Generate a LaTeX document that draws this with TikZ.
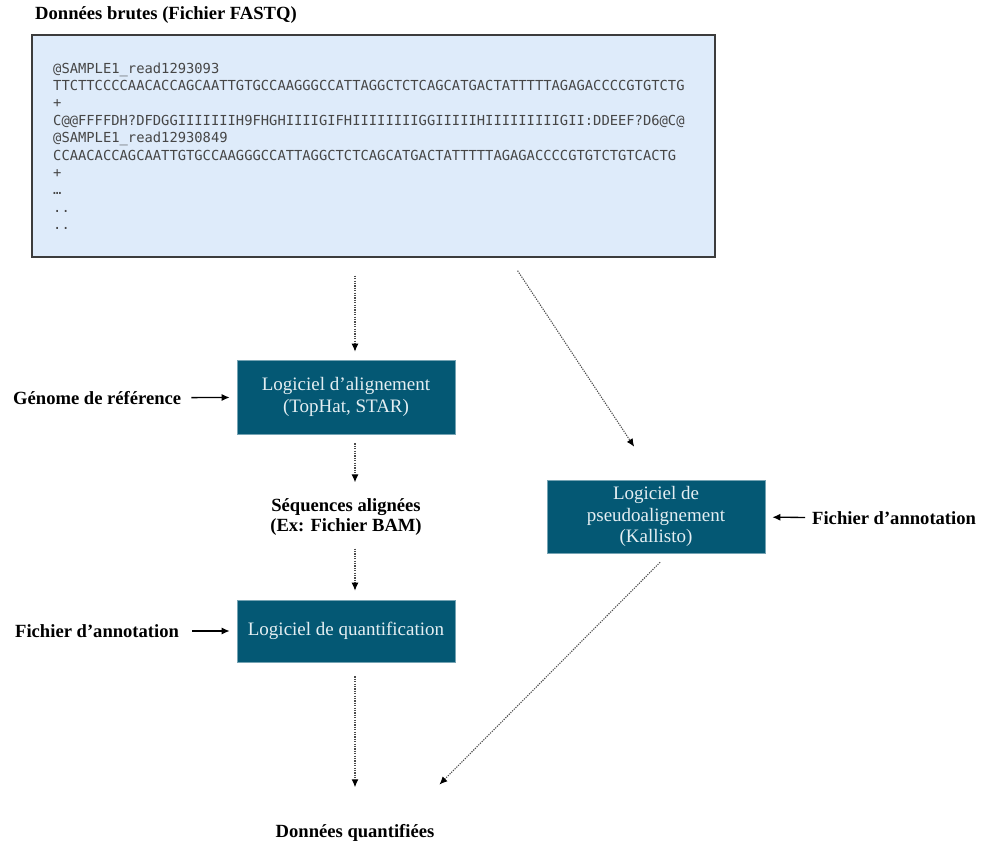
\documentclass[tikz,border=0pt]{standalone}
\usepackage{fontspec}
\setmainfont{Liberation Serif}
\setmonofont{DejaVu Sans Mono}
\usetikzlibrary{arrows.meta}
\definecolor{toolblue}{RGB}{4,88,116}
\definecolor{tooltext}{RGB}{228,238,242}
\definecolor{rawfill}{RGB}{222,235,250}
\definecolor{rawline}{RGB}{60,60,60}
\definecolor{readtext}{RGB}{70,70,70}

\begin{document}
\begin{tikzpicture}
        [x=1pt, y=-1pt,
        tool/.style={rectangle, fill=toolblue, draw=toolblue!55!white, line width=0.6pt,
           text=tooltext, minimum width=218pt, align=center,
           font=\fontsize{19}{21.5}\selectfont},
        txt/.style={inner sep=0pt, align=center, font=\fontsize{18.6}{20}\selectfont\bfseries},
        dotarr/.style={-{Latex[length=8pt,width=7pt,black]}, dash pattern=on 1.2pt off 1.2pt,
           line width=1.1pt, draw=black!70},
        arr/.style={-{Latex[length=8pt,width=7pt]}, line width=1.3pt}]
        \useasboundingbox (0,0) rectangle (982,845);
        % raw reads
        \node (title) at (35,15) [txt, anchor=west] {Données brutes (Fichier FASTQ)};
        \node (fastq) at (373.5,146) [rectangle, fill=rawfill, draw=rawline, line width=1.4pt,
           minimum width=683pt, minimum height=222pt] {};
        \node (reads) at (53,62.5) [anchor=north west, inner sep=0pt, align=left, text=readtext,
           font=\fontsize{13.8}{17.4}\selectfont\ttfamily]
           {@SAMPLE1\_read1293093\\
            TTCTTCCCCAACACCAGCAATTGTGCCAAGGGCCATTAGGCTCTCAGCATGACTATTTTTAGAGACCCCGTGTCTG\\
            +\\
            C@@FFFFDH?DFDGGIIIIIIIH9FHGHIIIIGIFHIIIIIIIIGGIIIIIHIIIIIIIIIGII:DDEEF?D6@C@\\
            @SAMPLE1\_read12930849\\
            CCAACACCAGCAATTGTGCCAAGGGCCATTAGGCTCTCAGCATGACTATTTTTAGAGACCCCGTGTCTGTCACTG\\
            +\\
            …\\
            ..\\
            ..};
        % tools
        \node (align) at (346,397) [tool, minimum height=74pt] {Logiciel d’alignement\\(TopHat, STAR)};
        \node (quant) at (346,631) [tool, minimum height=62pt] {Logiciel de quantification};
        \node (kallisto) at (656,516.5) [tool, minimum height=73pt]
           {Logiciel de\\pseudoalignement\\(Kallisto)};
        % inputs and outputs
        \node (genome) at (13,398) [txt, anchor=west] {Génome de référence}
           edge[arr, shorten <=10pt, shorten >=7pt] (align);
        \node (annotL) at (15,631) [txt, anchor=west] {Fichier d’annotation}
           edge[arr, shorten <=13pt, shorten >=7pt] (quant);
        \node (annotR) at (812,518) [txt, anchor=west] {Fichier d’annotation}
           edge[arr, shorten <=7pt, shorten >=7pt] (kallisto);
        \node (aligned) at (346,517) [txt] {Séquences alignées\\(Ex: Fichier BAM)};
        \node (counts) at (355,833) [txt] {Données quantifiées};
        % pipeline
        \draw[dotarr, shorten <=18pt, shorten >=8pt] (fastq.south -| counts) -- (align.north -| counts);
        \draw[dotarr, shorten <=9pt, shorten >=16pt] (align.south -| counts) -- (aligned.north -| counts);
        \draw[dotarr, shorten <=13pt, shorten >=9pt] (aligned.south -| counts) -- (quant.north -| counts);
        \draw[dotarr, shorten <=14pt, shorten >=37pt] (quant.south -| counts) -- (counts.north);
        \draw[dotarr, shorten <=15.6pt, shorten >=39.5pt] ([xshift=135.5pt]fastq.south) -- (kallisto.north);
        \draw[dotarr, shorten <=12.6pt, shorten >=56pt] ([xshift=13pt]kallisto.south) -- ([xshift=45pt]counts.north);
     \end{tikzpicture}
\end{document}
